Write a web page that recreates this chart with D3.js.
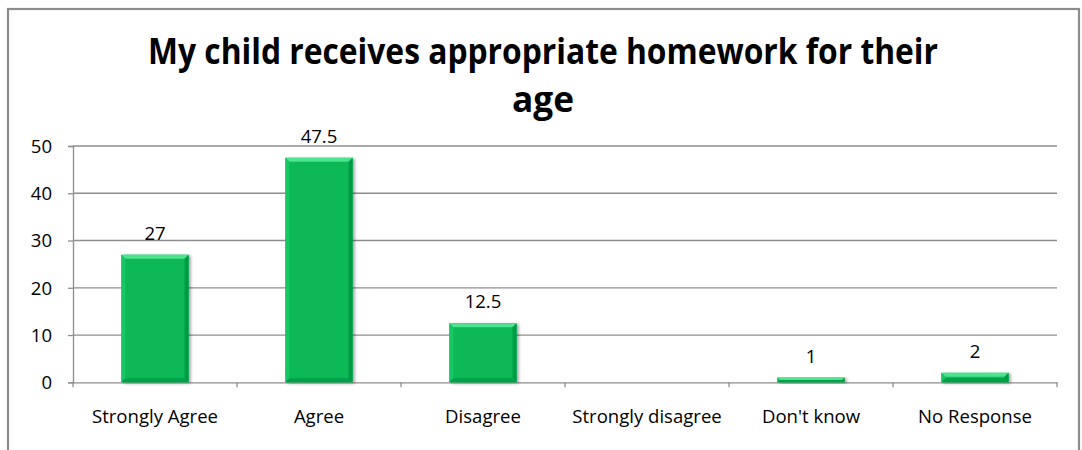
<!DOCTYPE html>
<html><head><meta charset="utf-8">
<script src="https://cdn.jsdelivr.net/npm/d3@7/dist/d3.min.js"></script>
<style>
html,body{margin:0;padding:0;background:#fff;}
svg{display:block;}
</style></head>
<body>
<script>
const categories = ["Strongly Agree","Agree","Disagree","Strongly disagree","Don't know","No Response"];
const values = [27,47.5,12.5,0,1,2];
const valueLabels = ["27","47.5","12.5","","1","2"];
const yTicks = [0,10,20,30,40,50];
const titleLines = ["My child receives appropriate homework for their","age"];

const W=1082,H=450;
const svg=d3.select("body").append("svg").attr("width",W).attr("height",H);
const font="'Open Sans', sans-serif";

// frame
svg.append("rect").attr("x",8).attr("y",9).attr("width",1071).attr("height",460)
  .attr("fill","#fff").attr("stroke","#8c8c8c").attr("stroke-width",2.2);

const m={left:73,right:1057,top:146,bottom:382.3};
const x=d3.scaleBand().domain(categories).range([m.left,m.right]).paddingInner(0.59).paddingOuter(0.295);
const xb=d3.scaleBand().domain(categories).range([m.left,m.right]);
const y=d3.scaleLinear().domain([0,50]).range([m.bottom,m.top]);

const defs=svg.append("defs");
const f=defs.append("filter").attr("id","sh").attr("x","-20%").attr("y","-20%").attr("width","150%").attr("height","150%");
f.append("feGaussianBlur").attr("in","SourceAlpha").attr("stdDeviation",1.5);
f.append("feOffset").attr("dx",2).attr("dy",1).attr("result","ob");
f.append("feComponentTransfer").append("feFuncA").attr("type","linear").attr("slope",0.35);
const mg=f.append("feMerge"); mg.append("feMergeNode"); mg.append("feMergeNode").attr("in","SourceGraphic");

function squeeze(sel,k){
  sel.each(function(){
    const n=this, w=n.getComputedTextLength();
    d3.select(n).attr("textLength",w*k).attr("lengthAdjust","spacingAndGlyphs");
  });
}

// gridlines
svg.append("g").selectAll("line").data(yTicks.filter(d=>d>0)).join("line")
  .attr("x1",m.left).attr("x2",m.right).attr("y1",d=>y(d)).attr("y2",d=>y(d))
  .attr("stroke","#8e8e8e").attr("stroke-width",1.3);

// y axis
const ya=svg.append("g").attr("transform",`translate(${m.left},0)`)
  .call(d3.axisLeft(y).tickValues(yTicks).tickSize(5).tickPadding(16));
ya.select(".domain").attr("stroke","#8e8e8e").attr("stroke-width",1.3);
ya.selectAll(".tick line").attr("stroke","#8e8e8e").attr("stroke-width",1.3);
ya.selectAll("text").attr("font-family",font).attr("font-size",17.5).attr("fill","#000")
  .attr("dy","0.36em");

// x axis
const xa=svg.append("g").attr("transform",`translate(0,${m.bottom})`)
  .call(d3.axisBottom(xb).tickSize(0).tickPadding(0));
xa.select(".domain").attr("stroke","#8e8e8e").attr("stroke-width",1.3);
const xt=xa.selectAll("text").attr("font-family",font).attr("font-size",17.5).attr("fill","#000")
  .attr("y",41).attr("dy",0);
svg.append("g").selectAll("line").data(d3.range(categories.length+1)).join("line")
  .attr("x1",i=>m.left+i*xb.step()).attr("x2",i=>m.left+i*xb.step())
  .attr("y1",m.bottom).attr("y2",m.bottom+5).attr("stroke","#8e8e8e").attr("stroke-width",1.3);

// bars with bevel
const data=categories.map((c,i)=>({c,v:values[i],l:valueLabels[i]}));
const bars=svg.append("g").selectAll("g").data(data.filter(d=>d.v>0)).join("g").attr("filter","url(#sh)");
bars.each(function(d){
  const g=d3.select(this);
  const x0=x(d.c), x1=x0+x.bandwidth(), y0=y(d.v), y1=y(0);
  const b=Math.min(4,(y1-y0)/2);
  g.append("rect").attr("x",x0).attr("y",y0).attr("width",x1-x0).attr("height",y1-y0).attr("fill","#07b957");
  g.append("polygon").attr("points",[[x0,y0],[x1,y0],[x1-b,y0+b],[x0+b,y0+b]].join(" ")).attr("fill","#4de38f");
  g.append("polygon").attr("points",[[x0,y0],[x0+b,y0+b],[x0+b,y1-b],[x0,y1]].join(" ")).attr("fill","#17c764");
  g.append("polygon").attr("points",[[x1,y0],[x1,y1],[x1-b,y1-b],[x1-b,y0+b]].join(" ")).attr("fill","#069a47");
  g.append("polygon").attr("points",[[x0,y1],[x1,y1],[x1-b,y1-b],[x0+b,y1-b]].join(" ")).attr("fill","#06a04a");
});

// value labels
const vl=svg.append("g").selectAll("text").data(data.filter(d=>d.l!=="")).join("text")
  .attr("x",d=>x(d.c)+x.bandwidth()/2).attr("y",d=>y(d.v)-15)
  .attr("text-anchor","middle").attr("font-family",font).attr("font-size",17.5).attr("fill","#000")
  .text(d=>d.l);

// compress text horizontally to mimic the narrow reference face
const sa=xt.filter(d=>d===categories[0]).node();
const k=126/sa.getComputedTextLength();
squeeze(xt,k); squeeze(vl,k); squeeze(ya.selectAll("text"),k);

// title
const titleW=[790,62];
svg.append("g").selectAll("text").data(titleLines).join("text")
  .attr("x",543).attr("y",(d,i)=>i===0?64:112).attr("text-anchor","middle")
  .attr("font-family",font).attr("font-weight","bold").attr("font-size",35).attr("fill","#000")
  .attr("textLength",(d,i)=>titleW[i]).attr("lengthAdjust","spacingAndGlyphs")
  .text(d=>d);
</script>
</body></html>
